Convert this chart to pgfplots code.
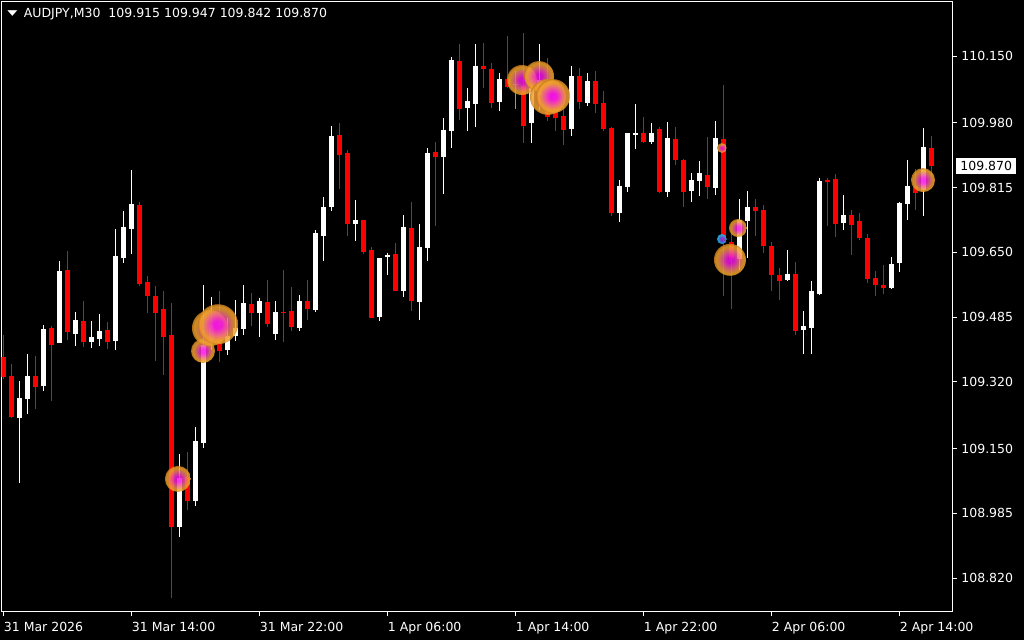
\documentclass[border=0pt]{standalone}
\usepackage{pgfplots}
\pgfplotsset{compat=1.18}
\usepackage{pgfplotstable}
\usepackage{graphicx}
\usepackage{fontspec}
\setmainfont{DejaVu Sans}
\newcommand\mtfont{\fontsize{6.25pt}{7.5pt}\selectfont}

\definecolor{bullc}{RGB}{255,255,255}
\definecolor{bearc}{RGB}{255,0,0}
\definecolor{dojic}{RGB}{0,255,0}
\definecolor{glowC}{RGB}{245,20,230}
\definecolor{glowP}{RGB}{240,110,130}
\definecolor{glowO}{RGB}{240,160,45}
\definecolor{glowE}{RGB}{200,125,25}
\definecolor{blueC}{RGB}{130,60,220}
\definecolor{blueO}{RGB}{40,170,230}

\pgfdeclareradialshading{glow}{\pgfpoint{0bp}{0bp}}{color(0bp)=(glowC); color(5bp)=(glowC); color(14bp)=(glowP); color(20bp)=(glowO); color(23bp)=(glowO); color(25bp)=(glowE); color(50bp)=(glowE)}
\pgfdeclareradialshading{glowblue}{\pgfpoint{0bp}{0bp}}{color(0bp)=(blueC); color(9bp)=(blueC); color(19bp)=(blueO); color(50bp)=(blueO)}

% x = bar index (M30 bars from 31 Mar 06:00), O H L C
\pgfplotstableread{
x O H L C
2 109.228 109.322 109.062 109.279
3 109.276 109.391 109.238 109.335
5 109.310 109.465 109.297 109.455
7 109.419 109.628 109.419 109.603
9 109.442 109.498 109.411 109.478
11 109.422 109.475 109.406 109.434
12 109.429 109.493 109.411 109.450
14 109.424 109.710 109.401 109.641
15 109.636 109.755 109.623 109.715
16 109.710 109.860 109.646 109.773
22 108.950 109.136 108.925 109.075
24 109.017 109.205 109.004 109.169
25 109.164 109.567 109.152 109.414
26 109.427 109.536 109.401 109.465
28 109.401 109.483 109.389 109.437
29 109.437 109.529 109.424 109.457
30 109.455 109.567 109.439 109.521
32 109.495 109.534 109.434 109.526
34 109.442 109.526 109.427 109.498
37 109.457 109.541 109.450 109.526
39 109.503 109.707 109.498 109.699
40 109.692 109.791 109.628 109.766
41 109.766 109.972 109.755 109.947
44 109.722 109.783 109.679 109.732
47 109.485 109.636 109.475 109.636
48 109.638 109.648 109.592 109.643
50 109.552 109.745 109.536 109.715
52 109.524 109.722 109.478 109.664
53 109.661 109.916 109.628 109.903
55 109.893 109.992 109.799 109.962
56 109.959 110.148 109.916 110.140
58 110.018 110.069 109.959 110.036
59 110.028 110.181 109.969 110.125
62 110.033 110.107 110.010 110.092
66 109.980 110.089 109.928 110.069
67 110.051 110.181 110.013 110.089
71 109.964 110.125 109.947 110.099
73 110.031 110.107 110.023 110.087
77 109.750 109.834 109.727 109.819
78 109.817 109.954 109.804 109.954
79 109.949 110.028 109.913 109.954
81 109.931 109.980 109.926 109.954
83 109.804 109.982 109.791 109.941
86 109.806 109.852 109.778 109.834
87 109.832 109.883 109.794 109.852
89 109.814 109.985 109.796 109.941
92 109.633 109.786 109.605 109.732
93 109.730 109.806 109.636 109.766
98 109.580 109.656 109.577 109.595
100 109.452 109.501 109.391 109.462
101 109.457 109.577 109.391 109.552
102 109.544 109.839 109.541 109.832
105 109.725 109.796 109.707 109.745
111 109.559 109.638 109.557 109.620
112 109.623 109.778 109.600 109.776
113 109.773 109.885 109.732 109.819
115 109.809 109.967 109.743 109.918
}\bull

\pgfplotstableread{
x O H L C
0 109.383 109.439 109.327 109.332
1 109.335 109.366 109.228 109.231
4 109.335 109.386 109.251 109.307
6 109.457 109.462 109.271 109.414
8 109.605 109.653 109.427 109.447
10 109.475 109.526 109.409 109.422
13 109.452 109.473 109.404 109.422
17 109.771 109.778 109.564 109.569
18 109.575 109.590 109.495 109.539
19 109.539 109.564 109.373 109.495
20 109.506 109.552 109.338 109.434
21 109.439 109.521 108.769 108.950
23 109.078 109.141 108.994 109.017
27 109.439 109.552 109.371 109.399
31 109.518 109.546 109.462 109.495
33 109.524 109.580 109.460 109.467
35 109.498 109.605 109.422 109.495
36 109.501 109.562 109.450 109.460
38 109.526 109.580 109.478 109.506
42 109.949 109.980 109.811 109.898
43 109.903 109.911 109.692 109.722
45 109.732 109.732 109.646 109.651
46 109.656 109.664 109.483 109.483
49 109.646 109.674 109.552 109.552
51 109.712 109.778 109.501 109.526
54 109.906 109.931 109.717 109.893
57 110.138 110.181 109.987 110.015
60 110.125 110.183 110.069 110.117
61 110.117 110.133 110.018 110.031
63 110.092 110.201 110.069 110.071
65 110.074 110.209 109.929 109.972
68 110.051 110.145 109.985 109.995
69 110.038 110.076 109.959 109.992
70 109.997 110.026 109.924 109.962
72 110.099 110.120 110.015 110.033
74 110.087 110.112 110.005 110.028
75 110.031 110.061 109.959 109.964
76 109.967 109.969 109.743 109.750
80 109.954 109.995 109.929 109.931
82 109.964 109.969 109.801 109.804
84 109.939 109.969 109.873 109.885
85 109.885 109.888 109.766 109.804
88 109.847 109.944 109.786 109.817
90 109.939 110.076 109.539 109.681
91 109.676 109.702 109.506 109.636
94 109.766 109.786 109.692 109.755
95 109.758 109.771 109.648 109.666
96 109.666 109.676 109.552 109.592
97 109.592 109.610 109.529 109.577
99 109.595 109.625 109.439 109.450
103 109.834 109.839 109.717 109.830
104 109.837 109.850 109.689 109.722
106 109.745 109.758 109.643 109.720
107 109.730 109.750 109.681 109.687
108 109.687 109.697 109.572 109.582
109 109.585 109.603 109.539 109.567
110 109.567 109.618 109.544 109.559
114 109.819 109.862 109.758 109.801
116 109.915 109.947 109.842 109.870
}\bear

% doji (open = close)
\pgfplotstableread{
x O H L C
64 110.0755 110.112 110.015 110.078
}\doji

% signal blobs: x, price, diameter (pt)
\pgfplotstableread{
x y d
21.8 109.073 13
24.94 109.399 12
25.81 109.457 18
26.81 109.467 20
64.81 110.089 15
66.94 110.099 15
68.06 110.046 18
68.69 110.048 17
90.81 109.631 16
91.81 109.712 9
114.94 109.834 12
89.81 109.916 5
}\blobs

\pgfplotstableread{
x y d
89.81 109.684 5
}\blobsblue

\begin{document}
\begin{tikzpicture}
\fill[black] (0,0) rectangle (512pt,320pt);
\useasboundingbox (0,0) rectangle (512pt,320pt);
\begin{axis}[
    at={(0.75pt,14pt)}, anchor=south west,
    scale only axis,
    width=475.5pt, height=305.25pt,
    xmin=-0.25, xmax=118.625,
    ymin=108.734, ymax=110.289,
    axis line style={white, line width=0.5pt},
    tick style={white, line width=0.5pt},
    tick align=outside,
    major tick length=2pt,
    xtick pos=left, ytick pos=right,
    yticklabel pos=right,
    xtick={0,16,...,112},
    xticklabels={31 Mar 2026,31 Mar 14:00,31 Mar 22:00,1 Apr 06:00,1 Apr 14:00,1 Apr 22:00,2 Apr 06:00,2 Apr 14:00},
    ytick={108.820,108.985,109.150,109.320,109.485,109.650,109.815,109.980,110.150},
    yticklabels={108.820,108.985,109.150,109.320,109.485,109.650,109.815,109.980,110.150},
    ticklabel style={font=\mtfont, text=white, inner sep=0pt},
    xticklabel style={anchor=north west, yshift=-2.75pt},
    yticklabel style={anchor=west, xshift=2.25pt},
    extra y ticks={109.870},
    extra y tick labels={109.870},
    extra y tick style={major tick length=0pt,
        yticklabel style={fill=white, text=black, inner xsep=2pt, inner ysep=1.6pt, xshift=-0.5pt}},
    title={\raisebox{1pt}{\scalebox{1.05}[0.6]{▼}}\hspace{3.2pt}AUDJPY,M30\hspace{4pt}109.915 109.947 109.842 109.870},
    title style={at={(0,1)}, anchor=north west, xshift=2.75pt, yshift=-9.25pt,
        inner sep=0pt, text=white, font=\mtfont},
]
% wicks
\addplot[forget plot, draw=none, mark=none, error bars/.cd, y dir=plus, y explicit,
    error mark=none, error bar style={line width=0.5pt, bullc}]
    table[x=x, y=L, y error expr=\thisrow{H}-\thisrow{L}] {\bull};
\addplot[forget plot, draw=none, mark=none, error bars/.cd, y dir=plus, y explicit,
    error mark=none, error bar style={line width=0.5pt, bearc}]
    table[x=x, y=L, y error expr=\thisrow{H}-\thisrow{L}] {\bear};
\addplot[forget plot, draw=none, mark=none, error bars/.cd, y dir=plus, y explicit,
    error mark=none, error bar style={line width=0.5pt, dojic}]
    table[x=x, y=L, y error expr=\thisrow{H}-\thisrow{L}] {\doji};
% bodies
\addplot[forget plot, draw=none, mark=none, error bars/.cd, y dir=plus, y explicit,
    error mark=none, error bar style={line width=2.5pt, bullc}]
    table[x=x, y=O, y error expr=\thisrow{C}-\thisrow{O}] {\bull};
\addplot[forget plot, draw=none, mark=none, error bars/.cd, y dir=plus, y explicit,
    error mark=none, error bar style={line width=2.5pt, bearc}]
    table[x=x, y=C, y error expr=\thisrow{O}-\thisrow{C}] {\bear};
\addplot[forget plot, draw=none, mark=none, error bars/.cd, y dir=plus, y explicit,
    error mark=none, error bar style={line width=2.5pt, dojic}]
    table[x=x, y=O, y error expr=\thisrow{C}-\thisrow{O}] {\doji};
% signal blobs
\addplot[forget plot, only marks, mark=*, mark size=0.1pt, mark options={opacity=0},
    visualization depends on={\thisrow{d}\as\dd},
    nodes near coords={},
    every node near coord/.append style={circle, inner sep=0pt, anchor=center,
        minimum size=\dd*1pt, shade, shading=glow, opacity=0.85}]
    table[x=x, y=y] {\blobs};
\addplot[forget plot, only marks, mark=*, mark size=0.1pt, mark options={opacity=0},
    visualization depends on={\thisrow{d}\as\dd},
    nodes near coords={},
    every node near coord/.append style={circle, inner sep=0pt, anchor=center,
        minimum size=\dd*1pt, shade, shading=glowblue, opacity=0.9}]
    table[x=x, y=y] {\blobsblue};
\end{axis}
\end{tikzpicture}
\end{document}
